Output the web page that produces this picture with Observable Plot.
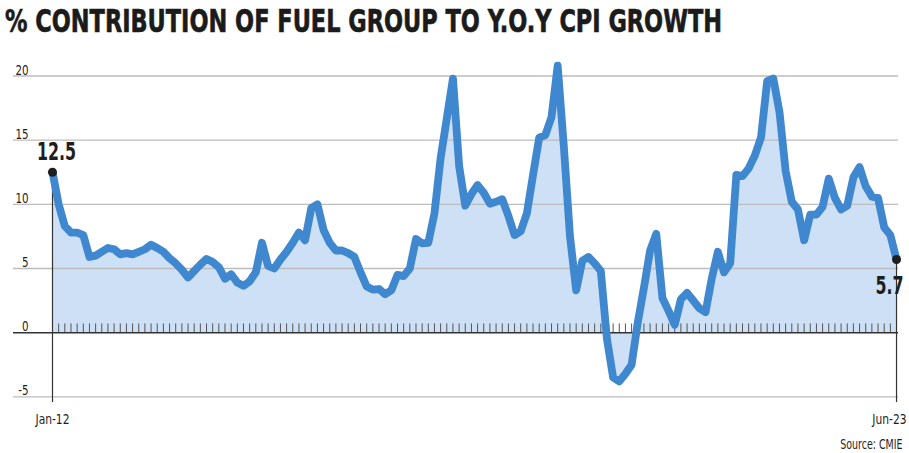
<!DOCTYPE html>
<html>
<head>
<meta charset="utf-8">
<script src="https://cdn.jsdelivr.net/npm/d3@7"></script>
<script src="https://cdn.jsdelivr.net/npm/@observablehq/plot@0.6"></script>
<style>
  html, body { margin: 0; padding: 0; background: #fff; }
  #chart {
    position: relative; width: 909px; height: 453px; overflow: hidden;
    font-family: "Liberation Sans Narrow", "DejaVu Sans Condensed", "Roboto Condensed", "Liberation Sans", sans-serif;
  }
  #title {
    position: absolute; left: 5px; top: 5px;
    font-size: 32px; font-weight: bold; line-height: 1; color: #1b1b1b;
    -webkit-text-stroke: 0.6px #1b1b1b;
    white-space: nowrap; transform-origin: 0 0;
  }
  #plot { position: absolute; left: 0; top: 48px; }
  #plot svg { overflow: visible; }
</style>
</head>
<body>
<div id="chart">
  <div id="title">% CONTRIBUTION OF FUEL GROUP TO Y.O.Y CPI GROWTH</div>
  <div id="plot"></div>
</div>
<script>
// Monthly contribution (%) of the fuel group to y-o-y CPI growth, Jan-2012 … Jun-2023
const contribution = [
  12.5, 10.0, 8.3, 7.8, 7.8, 7.6, 5.9, 6.0, 6.3, 6.6, 6.5, 6.1,   // 2012
  6.2, 6.1, 6.3, 6.5, 6.85, 6.6, 6.3, 5.8, 5.4, 4.9, 4.3, 4.8,    // 2013
  5.3, 5.75, 5.5, 5.1, 4.2, 4.55, 3.9, 3.65, 4.0, 4.7, 7.0, 5.2,  // 2014
  5.0, 5.7, 6.3, 7.0, 7.8, 7.2, 9.7, 10.0, 8.0, 7.0, 6.4, 6.4,    // 2015
  6.2, 5.9, 4.7, 3.6, 3.35, 3.4, 3.0, 3.3, 4.5, 4.4, 5.0, 7.3,    // 2016
  6.95, 7.0, 9.3, 13.6, 16.7, 19.8, 13.0, 9.9, 10.8, 11.5, 10.9, 10.05, // 2017
  10.2, 10.4, 9.1, 7.6, 7.9, 9.3, 12.3, 15.2, 15.4, 16.8, 20.8, 14.5,   // 2018
  7.5, 3.3, 5.6, 5.9, 5.4, 4.8, -0.5, -3.5, -3.8, -3.2, -2.5, 0.8,      // 2019
  3.5, 6.4, 7.7, 2.7, 1.7, 0.6, 2.6, 3.1, 2.5, 1.9, 1.6, 4.2,     // 2020
  6.3, 4.7, 5.4, 12.3, 12.2, 12.8, 13.8, 15.2, 19.6, 19.8, 17.2, 12.6, // 2021
  10.2, 9.6, 7.2, 9.2, 9.2, 9.8, 12.0, 10.5, 9.6, 9.9, 12.1, 12.9,     // 2022
  11.4, 10.6, 10.5, 8.2, 7.6, 5.7                                  // 2023
];
const gridValues = [-5, 5, 10, 15, 20];
const yTickValues = [-5, 0, 5, 10, 15, 20];
const xTickLabels = ["Jan-12", "Jun-23"];
const sourceNote = "Source: CMIE";

const series = contribution.map((v, i) => ({i, v}));
const last = series.length - 1;
const endpoints = [series[0], series[last]];
const monthTicks = series.slice(1, last).map(d => d.i);
const xTicks = [{i: 0, label: xTickLabels[0]}, {i: last, label: xTickLabels[1]}];

const blue = "#3f87cf";
const fillBlue = "#cde0f5";
const ink = "#1e1e1e";

const chart = Plot.plot({
  width: 909,
  height: 405,
  marginLeft: 13,
  marginRight: 11,
  marginTop: 27.5,
  marginBottom: 56.7,
  x: {domain: [-6.33, last + 0.32], axis: null},
  y: {domain: [-5, 20], axis: null},
  style: {fontFamily: "\"Liberation Sans Narrow\", \"DejaVu Sans Condensed\", \"Roboto Condensed\", \"Liberation Sans\", sans-serif", color: ink},
  marks: [
    Plot.areaY(series, {x: "i", y1: 0, y2: "v", fill: fillBlue, curve: "linear"}),
    Plot.ruleY(gridValues, {stroke: "#bdbdbd", strokeWidth: 1.3}),
    Plot.ruleX(monthTicks, {x: d => d, y1: 0, y2: 0.68, stroke: "#555", strokeWidth: 1}),
    Plot.ruleY([0], {stroke: "#333", strokeWidth: 1.5}),
    Plot.ruleX(endpoints, {x: "i", y1: -5.45, y2: "v", stroke: "#333", strokeWidth: 1.2}),
    Plot.line(series, {x: "i", y: "v", stroke: blue, strokeWidth: 7.8, strokeLinejoin: "round", strokeLinecap: "round"}),
    Plot.dot(endpoints, {x: "i", y: "v", r: 4.5, fill: ink, stroke: null}),
    // value labels at both ends
    Plot.text([endpoints[0]], {x: "i", y: "v", text: d => d.v.toFixed(1), dx: 4, dy: -12, lineAnchor: "bottom", textAnchor: "middle", fontSize: 24.5, fontWeight: "bold", fill: ink}),
    Plot.text([endpoints[1]], {x: "i", y: "v", text: d => d.v.toFixed(1), dx: 7, dy: 35, lineAnchor: "bottom", textAnchor: "end", fontSize: 24.5, fontWeight: "bold", fill: ink}),
    // y tick labels sit just above their gridlines
    Plot.text(yTickValues, {y: d => d, text: d => String(d), frameAnchor: "left", dx: 15, dy: -1.5, textAnchor: "end", lineAnchor: "bottom", fontSize: 13.5, fill: ink}),
    // x labels for the first and last month
    Plot.text([xTicks[0]], {x: "i", y: -5, text: "label", dy: 27, lineAnchor: "bottom", textAnchor: "middle", fontSize: 14, fill: ink}),
    Plot.text([xTicks[1]], {x: "i", y: -5, text: "label", dx: 10, dy: 27, lineAnchor: "bottom", textAnchor: "end", fontSize: 14, fill: ink}),
    Plot.text([sourceNote], {frameAnchor: "bottom-right", text: d => d, dx: 4, dy: 52, lineAnchor: "bottom", textAnchor: "end", fontSize: 13.5, fill: ink})
  ]
});
document.getElementById("plot").appendChild(chart);

// narrow the lettering to a condensed look, scaling each label about its own anchor
const endLabels = endpoints.map(d => d.v.toFixed(1));
const tickLabels = [...yTickValues.map(String), ...xTickLabels];
chart.querySelectorAll("text").forEach(t => {
  const s = t.textContent;
  const sx = endLabels.includes(s) ? 0.72 : tickLabels.includes(s) ? 0.85 : s === sourceNote ? 0.78 : 1;
  if (sx === 1) return;
  const tr = t.getAttribute("transform");
  if (tr) {
    t.setAttribute("transform", `${tr} scale(${sx},1)`);
  } else {
    const x = +(t.getAttribute("x") || 0);
    const y = +(t.getAttribute("y") || 0);
    t.setAttribute("transform", `translate(${x},${y}) scale(${sx},1) translate(${-x},${-y})`);
  }
});

// fit the headline to its column width
const title = document.getElementById("title");
const w = title.getBoundingClientRect().width;
const targetWidth = 717;
title.style.transform = `scaleX(${targetWidth / w})`;
</script>
</body>
</html>
